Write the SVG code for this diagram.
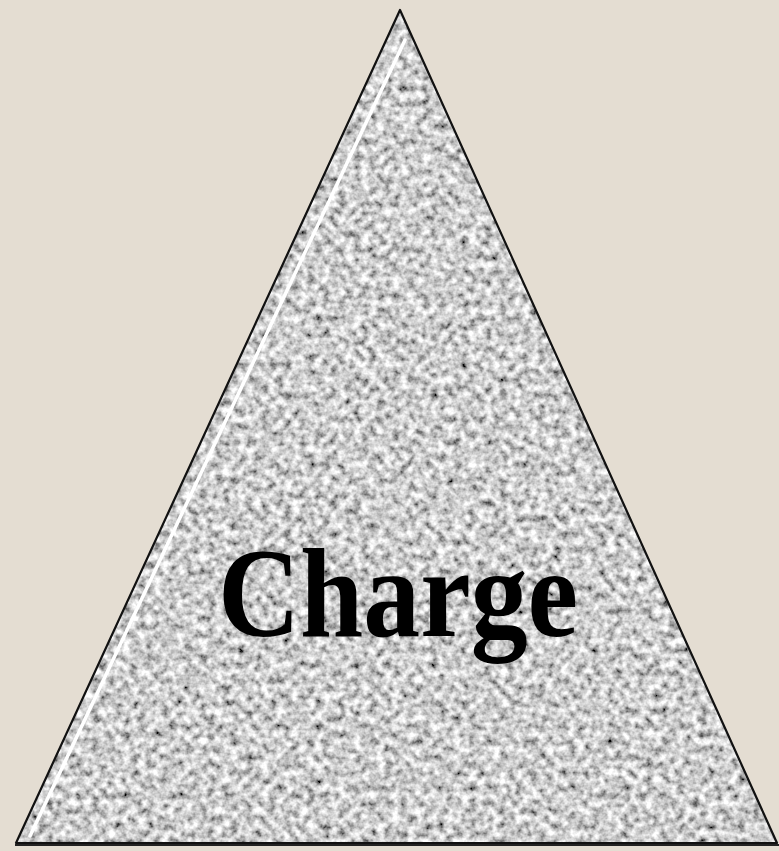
<svg xmlns="http://www.w3.org/2000/svg" width="779" height="851" viewBox="0 0 779 851">
  <defs>
    <filter id="granite" x="0" y="0" width="100%" height="100%" filterUnits="userSpaceOnUse">
      <feTurbulence type="fractalNoise" baseFrequency="0.13" numOctaves="3" seed="7" result="n"/>
      <feColorMatrix in="n" type="matrix" values="1.6 0 0 0 -0.19  1.6 0 0 0 -0.19  1.6 0 0 0 -0.19  0 0 0 0 1"/>
    </filter>
    <clipPath id="tri">
      <polygon points="400,10 777,843 16,843"/>
    </clipPath>
    <style>
      .edge { fill: none; stroke: #111; stroke-width: 2.2; stroke-linejoin: round; }
      .hl { fill: none; stroke: #ffffff; stroke-width: 3.5; stroke-linecap: round; }
      .label { font-family: "Liberation Serif", "Times New Roman", serif; font-weight: bold; font-size: 128px; fill: #000; }
    </style>
  </defs>
  <rect x="0" y="0" width="779" height="851" fill="#e4ddd2"/>
  <g id="pyramid">
    <g clip-path="url(#tri)">
      <rect x="0" y="0" width="779" height="851" fill="#b0b0b0"/>
      <rect x="0" y="0" width="779" height="851" filter="url(#granite)"/>
    </g>
    <line class="hl" x1="405" y1="40" x2="30" y2="836"/>
    <polygon class="edge" points="400,10 777,843 16,843"/>
    <line x1="15" y1="845" x2="779" y2="845" stroke="#222" stroke-width="2"/>
  </g>
  <g id="label">
    <text class="label" x="218" y="636" textLength="360" lengthAdjust="spacingAndGlyphs">Charge</text>
  </g>
</svg>
